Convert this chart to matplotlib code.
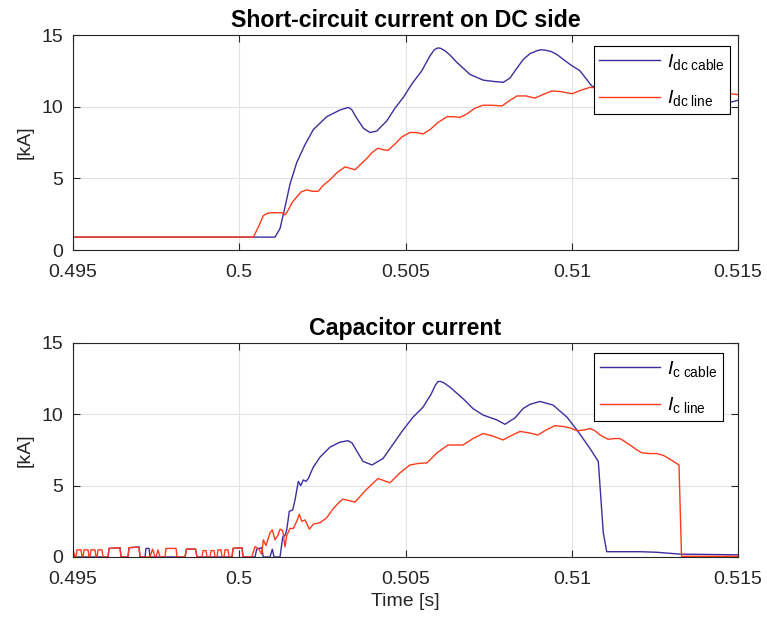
import matplotlib
matplotlib.use('Agg')
import matplotlib.pyplot as plt

plt.rcParams['font.family'] = ['Liberation Sans', 'DejaVu Sans']
plt.rcParams['mathtext.fontset'] = 'custom'
plt.rcParams['mathtext.rm'] = 'Liberation Sans'
plt.rcParams['mathtext.it'] = 'Liberation Sans:italic'

# DC side short-circuit current, cable
t_dc_cable = [0.495000, 0.501075, 0.501226, 0.501376, 0.501526, 0.501728, 0.501977, 0.502227,
              0.502630, 0.503030, 0.503280, 0.503382, 0.503532, 0.503731, 0.503932, 0.504134,
              0.504434, 0.504684, 0.504934, 0.505195, 0.505487, 0.505737, 0.505857, 0.505920,
              0.505986, 0.506060, 0.506188, 0.506338, 0.506540, 0.506940, 0.507340, 0.507692,
              0.507941, 0.508143, 0.508323, 0.508543, 0.508744, 0.508946, 0.509070, 0.509195,
              0.509380, 0.509547, 0.509947, 0.510248, 0.510600, 0.511150, 0.512053, 0.513256,
              0.514158, 0.514759, 0.515000]
i_dc_cable = [0.9, 0.9, 1.5, 3.0, 4.6, 6.1, 7.35, 8.4,
              9.3, 9.77, 9.95, 9.8, 9.2, 8.5, 8.2, 8.3,
              9.0, 9.9, 10.65, 11.6, 12.5, 13.55, 13.95, 14.05,
              14.1, 14.07, 13.9, 13.6, 13.1, 12.25, 11.85, 11.75,
              11.7, 12.0, 12.6, 13.3, 13.7, 13.9, 13.97, 13.95,
              13.85, 13.65, 12.95, 12.5, 11.45, 10.9, 10.6, 10.3,
              10.2, 10.3, 10.45]

# DC side short-circuit current, overhead line
t_dc_line = [0.495000, 0.500423, 0.500573, 0.500723, 0.500865, 0.501024, 0.501277, 0.501376,
             0.501475, 0.501586, 0.501728, 0.501857, 0.502029, 0.502188, 0.502377, 0.502519,
             0.502729, 0.502940, 0.503180, 0.503331, 0.503481, 0.503662, 0.503842, 0.503992,
             0.504173, 0.504323, 0.504474, 0.504684, 0.504895, 0.505135, 0.505316, 0.505526,
             0.505737, 0.505977, 0.506248, 0.506429, 0.506639, 0.506850, 0.507090, 0.507331,
             0.507601, 0.507902, 0.508113, 0.508353, 0.508624, 0.508895, 0.509135, 0.509406,
             0.509677, 0.510007, 0.510278, 0.510549, 0.511150, 0.511752, 0.512353, 0.512955,
             0.513707, 0.514308, 0.514759, 0.515000]
i_dc_line = [0.9, 0.9, 1.6, 2.4, 2.58, 2.6, 2.6, 2.45,
             2.8, 3.3, 3.7, 4.05, 4.2, 4.1, 4.1, 4.5,
             4.9, 5.4, 5.8, 5.7, 5.6, 6.0, 6.4, 6.8,
             7.1, 7.0, 6.95, 7.4, 7.9, 8.2, 8.2, 8.1,
             8.4, 8.9, 9.3, 9.3, 9.25, 9.5, 9.9, 10.1,
             10.1, 10.05, 10.4, 10.75, 10.75, 10.6, 10.85, 11.1,
             11.05, 10.9, 11.15, 11.35, 11.2, 11.45, 11.2, 11.3,
             11.0, 11.1, 10.9, 10.85]

# capacitor current, cable
t_c_cable = [0.495000, 0.496053, 0.496083, 0.496414, 0.496444, 0.496654, 0.496684, 0.496985,
             0.497015, 0.497165, 0.497195, 0.497286, 0.497316, 0.498368, 0.498413, 0.498684,
             0.498729, 0.499782, 0.499812, 0.500083, 0.500113, 0.500474, 0.500525, 0.500675,
             0.500723, 0.500925, 0.500994, 0.501045, 0.501226, 0.501307, 0.501376, 0.501427,
             0.501505, 0.501607, 0.501677, 0.501776, 0.501848, 0.501926, 0.502007, 0.502077,
             0.502227, 0.502429, 0.502729, 0.503030, 0.503271, 0.503391, 0.503541, 0.503722,
             0.503992, 0.504323, 0.504624, 0.504925, 0.505226, 0.505526, 0.505767, 0.505900,
             0.505977, 0.506060, 0.506158, 0.506338, 0.506729, 0.507030, 0.507331, 0.507752,
             0.507992, 0.508293, 0.508534, 0.508744, 0.509045, 0.509436, 0.509857, 0.510188,
             0.510549, 0.510798, 0.510948, 0.511051, 0.512053, 0.512555, 0.513256, 0.515000]
i_c_cable = [0.0, 0.0, 0.6, 0.65, 0.0, 0.0, 0.65, 0.7,
             0.0, 0.0, 0.6, 0.6, 0.0, 0.0, 0.55, 0.55,
             0.0, 0.0, 0.6, 0.65, 0.0, 0.0, 0.55, 0.65,
             0.0, 0.0, 0.55, 0.0, 0.0, 1.4, 1.5, 1.9,
             3.2, 3.3, 4.0, 5.3, 5.0, 5.4, 5.3, 5.5,
             6.3, 7.0, 7.7, 8.05, 8.15, 8.0, 7.4, 6.7,
             6.45, 6.9, 7.9, 8.9, 9.8, 10.5, 11.4, 12.05,
             12.3, 12.3, 12.2, 11.9, 11.1, 10.4, 9.95, 9.6,
             9.3, 9.75, 10.4, 10.7, 10.9, 10.65, 9.8, 8.8,
             7.6, 6.7, 1.7, 0.37, 0.37, 0.33, 0.2, 0.15]

# capacitor current, overhead line
t_c_line = [0.495000, 0.495060, 0.495090, 0.495120, 0.495241, 0.495271, 0.495301, 0.495331,
            0.495451, 0.495481, 0.495511, 0.495541, 0.495662, 0.495692, 0.495722, 0.495752,
            0.495872, 0.495902, 0.496053, 0.496083, 0.496414, 0.496444, 0.496654, 0.496684,
            0.496985, 0.497015, 0.497316, 0.497391, 0.497466, 0.497496, 0.497556, 0.497617,
            0.497767, 0.497797, 0.498098, 0.498128, 0.498368, 0.498413, 0.498684, 0.498729,
            0.498880, 0.498910, 0.499000, 0.499030, 0.499120, 0.499150, 0.499240, 0.499271,
            0.499331, 0.499361, 0.499451, 0.499481, 0.499541, 0.499571, 0.499662, 0.499692,
            0.499782, 0.499812, 0.500083, 0.500113, 0.500374, 0.500474, 0.500573, 0.500675,
            0.500723, 0.500804, 0.500925, 0.500994, 0.501075, 0.501156, 0.501226, 0.501307,
            0.501376, 0.501427, 0.501526, 0.501626, 0.501728, 0.501806, 0.501878, 0.501977,
            0.502107, 0.502227, 0.502429, 0.502630, 0.502829, 0.503030, 0.503120, 0.503481,
            0.503812, 0.504173, 0.504353, 0.504534, 0.504835, 0.505135, 0.505376, 0.505647,
            0.505947, 0.506278, 0.506489, 0.506729, 0.507030, 0.507331, 0.507601, 0.507932,
            0.508173, 0.508444, 0.508714, 0.508985, 0.509225, 0.509496, 0.509737, 0.509947,
            0.510158, 0.510368, 0.510549, 0.510699, 0.510850, 0.511090, 0.511271, 0.511451,
            0.511752, 0.511962, 0.512113, 0.512353, 0.512564, 0.512774, 0.512955, 0.513225,
            0.513301, 0.515000]
i_c_line = [0.5, 0.0, 0.0, 0.5, 0.5, 0.0, 0.0, 0.5,
            0.5, 0.0, 0.0, 0.5, 0.5, 0.0, 0.0, 0.5,
            0.5, 0.0, 0.0, 0.6, 0.65, 0.0, 0.0, 0.65,
            0.7, 0.0, 0.0, 0.55, 0.0, 0.0, 0.5, 0.0,
            0.0, 0.6, 0.6, 0.0, 0.0, 0.55, 0.55, 0.0,
            0.0, 0.45, 0.45, 0.0, 0.0, 0.45, 0.45, 0.0,
            0.0, 0.5, 0.5, 0.0, 0.0, 0.5, 0.5, 0.0,
            0.0, 0.6, 0.65, 0.0, 0.0, 0.72, 0.6, 0.2,
            1.2, 0.8, 1.7, 1.9, 1.2, 1.5, 1.95, 1.85,
            0.7, 1.5, 2.0, 2.0, 2.5, 3.0, 2.5, 2.6,
            1.95, 2.3, 2.4, 2.75, 3.4, 3.9, 4.05, 3.85,
            4.7, 5.5, 5.35, 5.2, 5.9, 6.45, 6.55, 6.6,
            7.3, 7.85, 7.85, 7.85, 8.3, 8.65, 8.5, 8.2,
            8.5, 8.8, 8.7, 8.55, 8.9, 9.2, 9.15, 9.05,
            8.85, 8.9, 9.0, 8.85, 8.55, 8.25, 8.3, 8.3,
            7.85, 7.5, 7.3, 7.25, 7.25, 7.1, 6.85, 6.45,
            0.05, 0.05]

x_ticks = [0.495, 0.5, 0.505, 0.51, 0.515]
x_tick_labels = ['0.495', '0.5', '0.505', '0.51', '0.515']
y_ticks = [0, 5, 10, 15]

blue = '#3b2f9e'
red = '#ff3a1a'
dark = '#262626'

fig = plt.figure(figsize=(7.67, 6.21), dpi=100)
ax1 = fig.add_axes([0.0952, 0.5974, 0.867, 0.3462])
ax2 = fig.add_axes([0.0952, 0.1031, 0.867, 0.3446])


def style(ax, title):
    ax.set_xlim(0.495, 0.515)
    ax.set_ylim(0, 15)
    ax.set_xticks(x_ticks)
    ax.set_xticklabels(x_tick_labels)
    ax.set_yticks(y_ticks)
    ax.grid(True, color='#e2e2e2', linewidth=0.8)
    ax.set_axisbelow(True)
    ax.tick_params(direction='in', top=True, right=True, length=5, width=0.8,
                   colors=dark, labelsize=14)
    ax.tick_params(axis='x', pad=10)
    ax.tick_params(axis='y', pad=7)
    for s in ax.spines.values():
        s.set_color(dark)
        s.set_linewidth(0.8)
    ax.set_title(title, fontsize=16.7, fontweight='bold', pad=6)
    ax.set_ylabel('[kA]', fontsize=14, color=dark, labelpad=6)


def add_legend(ax, anchor):
    leg = ax.legend(loc='upper right', bbox_to_anchor=anchor, fontsize=14,
                    handlelength=3.1, handletextpad=0.35, fancybox=False,
                    framealpha=1, edgecolor='black', borderpad=0.3,
                    labelspacing=0.85, borderaxespad=0)
    leg.get_frame().set_linewidth(0.8)


ax1.plot(t_dc_cable, i_dc_cable, color=blue, lw=1.0, label=r'$I_{\mathrm{dc\ cable}}$')
ax1.plot(t_dc_line, i_dc_line, color=red, lw=1.0, label=r'$I_{\mathrm{dc\ line}}$')
style(ax1, 'Short-circuit current on DC side')
add_legend(ax1, (0.988, 0.949))

ax2.plot(t_c_cable, i_c_cable, color=blue, lw=1.0, label=r'$I_{\mathrm{c\ cable}}$')
ax2.plot(t_c_line, i_c_line, color=red, lw=1.0, label=r'$I_{\mathrm{c\ line}}$')
style(ax2, 'Capacitor current')
ax2.set_xlabel('Time [s]', fontsize=14, color=dark, labelpad=4)
add_legend(ax2, (0.977, 0.953))

fig.savefig('out.png', dpi=100)
